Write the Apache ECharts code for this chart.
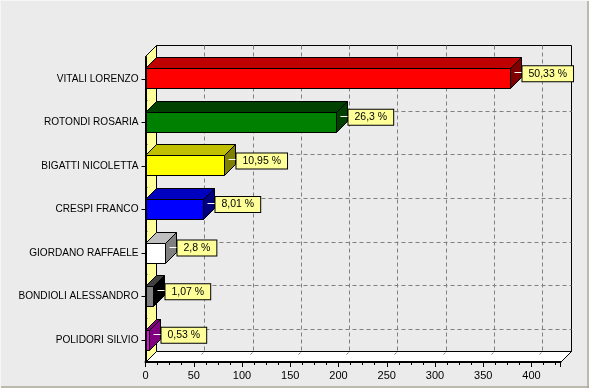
<!DOCTYPE html>
<html>
<head>
<meta charset="utf-8">
<style>
  html, body { margin: 0; padding: 0; background: #ebebeb; }
  #chart { width: 589px; height: 388px; }
</style>
<script src="https://cdn.jsdelivr.net/npm/echarts@6/dist/echarts.min.js"></script>
</head>
<body>
<div id="chart"></div>
<script>
// chart data
const names = ['VITALI LORENZO', 'ROTONDI ROSARIA', 'BIGATTI NICOLETTA', 'CRESPI FRANCO', 'GIORDANO RAFFAELE', 'BONDIOLI ALESSANDRO', 'POLIDORI SILVIO']
const votes = [378, 198, 82, 60, 21, 8, 4]
const percents = ['50,33 %', '26,3 %', '10,95 %', '8,01 %', '2,8 %', '1,07 %', '0,53 %']
const xTicks = [0, 50, 100, 150, 200, 250, 300, 350, 400]

// front, top, side colours of each bar
const frontColors = ['#ff0000', '#008000', '#ffff00', '#0000ff', '#ffffff', '#808080', '#e010e0']
const topColors = ['#bf0000', '#004000', '#bfbf00', '#0000bf', '#bfbfbf', '#404040', '#800080']
const sideColors = ['#7f0000', '#004000', '#808000', '#00007f', '#808080', '#000000', '#800080']

const depth = 11
const fontFamily = 'Arial, "Liberation Sans", sans-serif'
const axisMax = 430

const chart = echarts.init(document.getElementById('chart'), null, { renderer: 'canvas', width: 589, height: 388 })

// snap to the pixel grid so 1px outlines stay crisp
function snap (v) {
  return Math.floor(v) + 0.5
}

function poly (points, fill) {
  const snapped = points.map(function (p) { return [snap(p[0]), snap(p[1])] })
  return { type: 'polygon', shape: { points: snapped }, style: { fill: fill, stroke: '#000', lineWidth: 1 } }
}

function line (x1, y1, x2, y2, style) {
  return { type: 'line', shape: { x1: snap(x1), y1: snap(y1), x2: snap(x2), y2: snap(y2) }, style: style }
}

// walls, floor and dashed grid behind the bars
function renderWalls (params, api) {
  const x0 = api.coord([0, 0])[0]
  const x1 = api.coord([axisMax, 0])[0]
  const bandH = api.size([0, 1])[1]
  const yTop = api.coord([0, 0])[1] - bandH / 2
  const yBottom = api.coord([0, names.length - 1])[1] + bandH / 2
  const dashed = { stroke: '#808080', lineWidth: 1, lineDash: [4, 3] }
  const children = [
    poly([[x0 + depth, yTop - depth], [x1 + depth, yTop - depth], [x1 + depth, yBottom - depth], [x0 + depth, yBottom - depth]], '#ebebeb'),
    poly([[x0, yTop], [x0 + depth, yTop - depth], [x0 + depth, yBottom - depth], [x0, yBottom]], '#ffff99'),
    poly([[x0, yBottom], [x0 + depth, yBottom - depth], [x1 + depth, yBottom - depth], [x1, yBottom]], '#ffffff')
  ]
  xTicks.slice(1).forEach(function (t) {
    const x = api.coord([t, 0])[0]
    children.push(line(x + depth, yTop - depth, x + depth, yBottom - depth, dashed))
    children.push(line(x + 8, yBottom - 8, x + 10, yBottom - 10, { stroke: '#808080', lineWidth: 1 }))
  })
  names.forEach(function (n, i) {
    const y = api.coord([0, i])[1]
    children.push(line(x0 + depth, y - depth, x1 + depth, y - depth, dashed))
    // small boundary tick on the left wall
    const by = y + bandH / 2
    children.push(line(x0, by, x0 + 2, by, { stroke: '#404040', lineWidth: 1 }))
  })
  return { type: 'group', children: children }
}

// one 3D bar with its value box
function renderBar (params, api) {
  const i = api.value(1)
  const base = api.coord([0, i])
  const end = api.coord([api.value(0), i])
  const h = 20
  const y0 = base[1] - h / 2
  const y1 = base[1] + h / 2
  const x0 = base[0]
  const x1 = end[0]
  return {
    type: 'group',
    children: [
      poly([[x0, y0], [x0 + depth, y0 - depth], [x1 + depth, y0 - depth], [x1, y0]], topColors[i]),
      poly([[x1, y0], [x1 + depth, y0 - depth], [x1 + depth, y1 - depth], [x1, y1]], sideColors[i]),
      poly([[x0, y0], [x1, y0], [x1, y1], [x0, y1]], frontColors[i]),
      line(x1 + 4, base[1] - 6, x1 + 12, base[1] - 6, { stroke: '#fff', lineWidth: 1 }),
      {
        type: 'text',
        x: snap(x1 + 12),
        y: base[1] - 5,
        style: {
          text: percents[i],
          font: '10.5px ' + fontFamily,
          fill: '#000',
          align: 'left',
          verticalAlign: 'middle',
          backgroundColor: '#ffff99',
          borderColor: '#000',
          borderWidth: 1,
          padding: [2, 6, 2, 6]
        }
      }
    ]
  }
}

const option = {
  animation: false,
  backgroundColor: '#ebebeb',
  graphic: [
    { type: 'line', silent: true, shape: { x1: 588, y1: 0, x2: 588, y2: 388 }, style: { stroke: '#aca899', lineWidth: 1.5 } },
    { type: 'line', silent: true, shape: { x1: 0, y1: 387, x2: 589, y2: 387 }, style: { stroke: '#aca899', lineWidth: 1.5 } },
    { type: 'line', silent: true, shape: { x1: 0.5, y1: 0, x2: 0.5, y2: 388 }, style: { stroke: '#f6f6f6', lineWidth: 1 } },
    { type: 'line', silent: true, shape: { x1: 0, y1: 0.5, x2: 589, y2: 0.5 }, style: { stroke: '#f6f6f6', lineWidth: 1 } }
  ],
  grid: { left: 145.5, top: 57, width: 415, height: 305, containLabel: false },
  xAxis: {
    type: 'value',
    z: 5,
    min: 0,
    max: axisMax,
    interval: 50,
    axisLine: { show: true, onZero: false, lineStyle: { color: '#000', width: 2 } },
    axisTick: { show: true, length: 5, lineStyle: { color: '#000' } },
    minorTick: { show: true, splitNumber: 4, length: 3, lineStyle: { color: '#000' } },
    splitLine: { show: false },
    axisLabel: { color: '#000', fontSize: 11, fontFamily: fontFamily, margin: 8, showMaxLabel: false }
  },
  yAxis: {
    type: 'category',
    z: 5,
    inverse: true,
    data: names,
    axisLine: { show: true, onZero: false, lineStyle: { color: '#000', width: 2 } },
    axisTick: { show: true, alignWithLabel: true, length: 4, lineStyle: { color: '#000' } },
    splitLine: { show: false },
    axisLabel: { color: '#000', fontSize: 10.1, fontFamily: fontFamily, margin: 7 }
  },
  series: [
    {
      type: 'custom',
      silent: true,
      z: 1,
      data: [[0, 0]],
      encode: { x: 0, y: 1 },
      renderItem: renderWalls,
      clip: false
    },
    {
      type: 'custom',
      silent: true,
      z: 2,
      data: votes.map(function (v, i) { return [v, i] }),
      encode: { x: 0, y: 1 },
      renderItem: renderBar,
      clip: false
    }
  ]
}

chart.setOption(option)
</script>
</body>
</html>
